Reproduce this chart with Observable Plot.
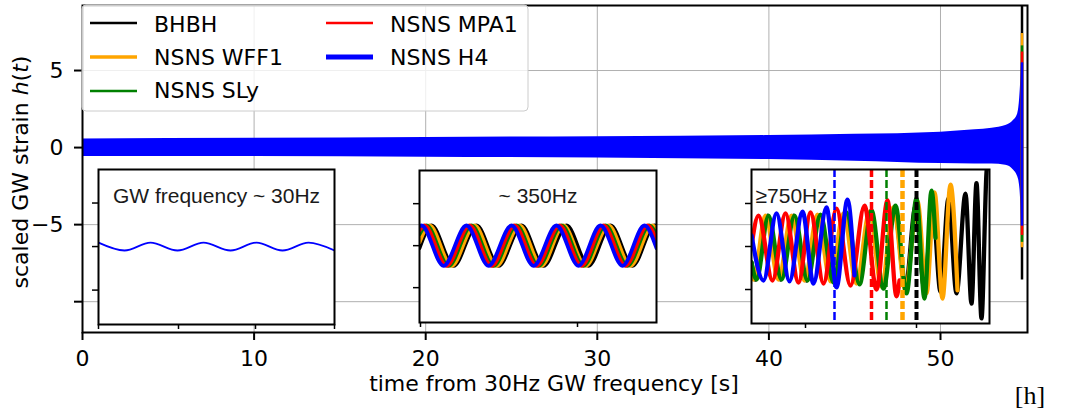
<!DOCTYPE html>
<html><head><meta charset="utf-8">
<script src="https://cdn.jsdelivr.net/npm/d3@7"></script>
<script src="https://cdn.jsdelivr.net/npm/@observablehq/plot@0.6"></script>
<style>
body{margin:0;background:#fff;}
#wrap{position:relative;width:1067px;height:413px;font-family:"DejaVu Sans";}
</style></head><body><div id="wrap"></div>
<script>
// ---------- data ----------
const series = ["BHBH", "NSNS WFF1", "NSNS SLy", "NSNS MPA1", "NSNS H4"];
const colors = ["black", "orange", "green", "red", "blue"];
const legendWidths = [2.5, 3.5, 2.5, 2.5, 5];

const xTicks = [0, 10, 20, 30, 40, 50];
const yTicks = [5, 0, -5, -10];

// main panel: envelope of the inspiral band (time s, upper, lower)
const bandT  = [0, 10, 20, 30, 40, 45, 50, 52, 53, 53.8, 54.25, 54.5, 54.6, 54.66, 54.72];
const bandHi = [0.56, 0.60, 0.66, 0.71, 0.78, 0.86, 1.0, 1.15, 1.26, 1.43, 1.75, 2.2, 3.0, 4.0, 5.5];
const bandLo = [-0.58, -0.58, -0.63, -0.67, -0.78, -0.88, -1.04, -1.06, -1.07, -1.15, -1.45, -1.9, -2.4, -3.2, -5.1];
// merger spike per series
const spikeT = 54.75;
const spikeMax = [12, 7.4, 6.6, 6.2, 5.5];
const spikeMin = [-8.6, -6.5, -6.15, -5.7, -5.1];

// inset 1 (~30 Hz), only H4 visible on top
const in1T = [0, 26, 52, 79, 105, 132, 158, 184, 210, 236];
const in1H = [0.09, -0.09, 0.09, -0.09, 0.09, -0.09, 0.09, -0.09, 0.09, -0.09];

// inset 2 (~350 Hz), per series [BHBH, WFF1, SLy, MPA1, H4]
const in2T = [
  [0, 12, 34, 57, 79, 102, 124, 147, 169, 191, 213, 235, 237],
  [0, 10, 32, 55, 77, 100, 122, 144, 166, 189, 211, 233, 237],
  [0, 7, 29, 52, 74, 97, 119, 142, 164, 186, 208, 230, 237],
  [0, 5, 27, 50, 72, 95, 117, 140, 162, 184, 206, 228, 237],
  [0, 2, 24, 47, 69, 92, 114, 137, 159, 181, 203, 225, 237]
];
const in2H = [
  [-0.06, 0.48, -0.48, 0.48, -0.48, 0.48, -0.48, 0.48, -0.48, 0.48, -0.48, 0.48, 0.47],
  [0.08, 0.48, -0.48, 0.48, -0.48, 0.48, -0.48, 0.48, -0.48, 0.48, -0.48, 0.48, 0.41],
  [0.27, 0.48, -0.48, 0.48, -0.48, 0.48, -0.48, 0.48, -0.48, 0.48, -0.48, 0.48, 0.27],
  [0.36, 0.48, -0.48, 0.48, -0.48, 0.48, -0.48, 0.48, -0.48, 0.48, -0.48, 0.48, 0.14],
  [0.46, 0.48, -0.48, 0.48, -0.48, 0.48, -0.48, 0.48, -0.48, 0.48, -0.48, 0.48, -0.06]
];

// inset 3 (>=750 Hz), per series [BHBH, WFF1, SLy, MPA1, H4]
const in3T = [
  [0, 4, 16, 29, 42, 55, 68, 81, 94, 107, 119, 131, 143, 154, 164, 173, 181, 189, 197, 205, 214, 220, 225, 230, 235, 239],
  [0, 2, 14, 27, 40, 53, 66, 79, 92, 105, 118, 130, 142, 154, 166, 175, 183, 191, 199, 206],
  [0, 5, 17, 30, 43, 56, 69, 82, 95, 108, 120, 132, 144, 155, 165, 173, 180, 184],
  [0, 7, 21, 34, 47, 59, 72, 85, 99, 113, 125, 136, 145, 148],
  [0, 12, 25, 38, 51, 62, 75, 85, 96, 103]
];
const in3H = [
  [-0.37, -0.77, 0.72, -0.77, 0.72, -0.79, 0.72, -0.81, 0.74, -0.84, 0.79, -0.88, 0.84, -0.95, 0.93, -1.0, 1.0, -1.05, 1.12, -1.09, 1.23, -1.33, 1.47, -1.67, 1.72, 2.4],
  [-0.67, -0.77, 0.72, -0.77, 0.72, -0.79, 0.74, -0.81, 0.77, -0.86, 0.81, -0.93, 0.91, -1.02, 1.05, -1.09, 1.26, -1.21, 1.44, -1.02],
  [-0.37, -0.77, 0.72, -0.77, 0.72, -0.79, 0.74, -0.84, 0.79, -0.88, 0.84, -0.98, 0.95, -1.09, 1.12, -1.21, 1.3, 0.2],
  [0.02, 0.72, -0.79, 0.77, -0.84, 0.79, -0.86, 0.88, -0.91, 0.95, -1.0, 1.07, -1.16, -0.79],
  [0.26, -0.79, 0.77, -0.81, 0.81, -0.86, 0.91, -0.95, 1.09, -0.67]
];
// merger markers in inset 3
const in3Merge = [165, 151, 135, 120, 83];
const in3MergeWidths = [4, 4.5, 2.5, 3.5, 2.5];

// ---------- main panel ----------
const wrap = document.getElementById("wrap");
const bandData = bandT.map((t, i) => ({t, hi: bandHi[i], lo: bandLo[i]}));
const spikeData = series.map((s, i) => ({s, t: spikeT, y1: spikeMin[i], y2: spikeMax[i], c: colors[i]}));
const minus = d => d < 0 ? "\u2212" + (-d) : String(d);

const main = Plot.plot({
  width: 1067, height: 413,
  marginLeft: 82, marginRight: 40, marginTop: 5, marginBottom: 81,
  style: {fontFamily: "DejaVu Sans", fontSize: "22px", background: "white", color: "black"},
  x: {domain: [0, 55.07]},
  y: {domain: [-12.0, 9.22]},
  marks: [
    Plot.gridX(xTicks.slice(1), {stroke: "#b0b0b0", strokeOpacity: 1, strokeWidth: 1}),
    Plot.gridY(yTicks, {stroke: "#b0b0b0", strokeOpacity: 1, strokeWidth: 1}),
    Plot.areaY(bandData, {x: "t", y1: "lo", y2: "hi", fill: "blue", curve: "monotone-x"}),
    ...spikeData.map(d => Plot.ruleX([d], {x: "t", y1: "y1", y2: "y2", stroke: d.c, strokeWidth: 2.5, clip: true})),
    Plot.frame({stroke: "black", strokeWidth: 2}),
    Plot.axisX({ticks: xTicks, tickSize: 8, tickPadding: 10, strokeWidth: 2, label: null, tickFormat: d => String(d)}),
    Plot.axisY({ticks: yTicks, tickSize: 8, tickPadding: 11, strokeWidth: 2, label: null,
      tickFormat: d => d === -10 ? "" : minus(d)})
  ]
});
wrap.appendChild(main);

const svg = d3.select(main);
const yl = svg.append("text")
  .attr("transform", "translate(28,172) rotate(-90)")
  .attr("text-anchor", "middle").attr("font-size", 22).attr("fill", "black");
yl.append("tspan").text("scaled GW strain ");
yl.append("tspan").attr("font-style", "italic").text("h");
yl.append("tspan").text("(");
yl.append("tspan").attr("font-style", "italic").text("t");
yl.append("tspan").text(")");

svg.append("text").attr("x", 554).attr("y", 391).attr("text-anchor", "middle")
  .attr("font-size", 22).attr("fill", "black").text("time from 30Hz GW frequency [s]");
svg.append("text").attr("x", 1030).attr("y", 404).attr("font-family", "Liberation Serif")
  .attr("font-size", 26).attr("fill", "black").text("[h]");

// ---------- insets ----------
function makeInset(box, xDom, yDom, xt, marks) {
  const ML = 9, MT = 2, MR = 2, MB = 8;
  const p = Plot.plot({
    width: box.R - box.L + ML + MR, height: box.B - box.T + MT + MB,
    marginLeft: ML, marginTop: MT, marginRight: MR, marginBottom: MB,
    style: {fontFamily: "DejaVu Sans", background: "transparent", overflow: "visible", color: "black"},
    x: {domain: xDom}, y: {domain: yDom},
    marks: [
      Plot.frame({fill: "white"}),
      ...marks,
      Plot.frame({stroke: "black", strokeWidth: 2}),
      Plot.axisX({ticks: xt, tickSize: 5, tickFormat: () => "", strokeWidth: 1.5, label: null}),
      Plot.axisY({ticks: [-1, 0, 1], tickSize: 6, tickFormat: () => "", strokeWidth: 1.5, label: null})
    ]
  });
  p.style.position = "absolute";
  p.style.left = (box.L - ML) + "px";
  p.style.top = (box.T - MT) + "px";
  wrap.appendChild(p);
}
const titleStyle = {fontFamily: "Liberation Sans", fontSize: 21, fill: "#1a1a1a"};

makeInset({L: 98, T: 169, R: 334, B: 324}, [0, 236], [-1.79, 1.77], [0, 80, 157, 236], [
  Plot.line(in1T.map((t, i) => ({t, h: in1H[i]})), {x: "t", y: "h", stroke: "blue", strokeWidth: 1.8, curve: "monotone-x", clip: true}),
  Plot.text(["GW frequency ~ 30Hz"], {frameAnchor: "top", dy: 19, ...titleStyle})
]);

makeInset({L: 419, T: 170, R: 656, B: 322}, [0, 237], [-1.83, 1.79], [1, 158], [
  ...series.map((s, k) => Plot.line(in2T[k].map((t, i) => ({t, h: in2H[k][i]})),
    {x: "t", y: "h", stroke: colors[k], strokeWidth: 3.8, curve: "monotone-x", clip: true})),
  Plot.text(["~ 350Hz"], {frameAnchor: "top", dy: 18, ...titleStyle})
]);

makeInset({L: 751, T: 169, R: 989, B: 323}, [0, 238], [-1.79, 1.79], [54, 165], [
  ...series.map((s, k) => Plot.line(in3T[k].map((t, i) => ({t, h: in3H[k][i]})),
    {x: "t", y: "h", stroke: colors[k], strokeWidth: 4.3, curve: "monotone-x", clip: true})),
  ...series.map((s, k) => Plot.ruleX([in3Merge[k]], {stroke: colors[k], strokeWidth: in3MergeWidths[k], strokeDasharray: "8,3"})),
  Plot.text(["\u2265750Hz"], {frameAnchor: "top-left", dx: 4, dy: 19, ...titleStyle})
]);

// ---------- legend ----------
const legend = d3.select(wrap).append("svg")
  .attr("width", 448).attr("height", 109)
  .style("position", "absolute").style("left", "81px").style("top", "4px")
  .style("font-family", "DejaVu Sans");
legend.append("rect").attr("x", 1).attr("y", 1).attr("width", 446).attr("height", 106)
  .attr("rx", 4).attr("fill", "rgba(255,255,255,0.8)").attr("stroke", "#cccccc").attr("stroke-width", 1);
series.forEach((s, i) => {
  const col = i < 3 ? 0 : 1, row = i < 3 ? i : i - 3;
  const lx = col ? 245 : 9, ty = 28 + row * 33, ly = 19 + row * 34;
  legend.append("line").attr("x1", lx).attr("x2", lx + 47).attr("y1", ly).attr("y2", ly)
    .attr("stroke", colors[i]).attr("stroke-width", legendWidths[i]);
  legend.append("text").attr("x", lx + 64).attr("y", ty).attr("font-size", 22).attr("fill", "black").text(s);
});
</script></body></html>
